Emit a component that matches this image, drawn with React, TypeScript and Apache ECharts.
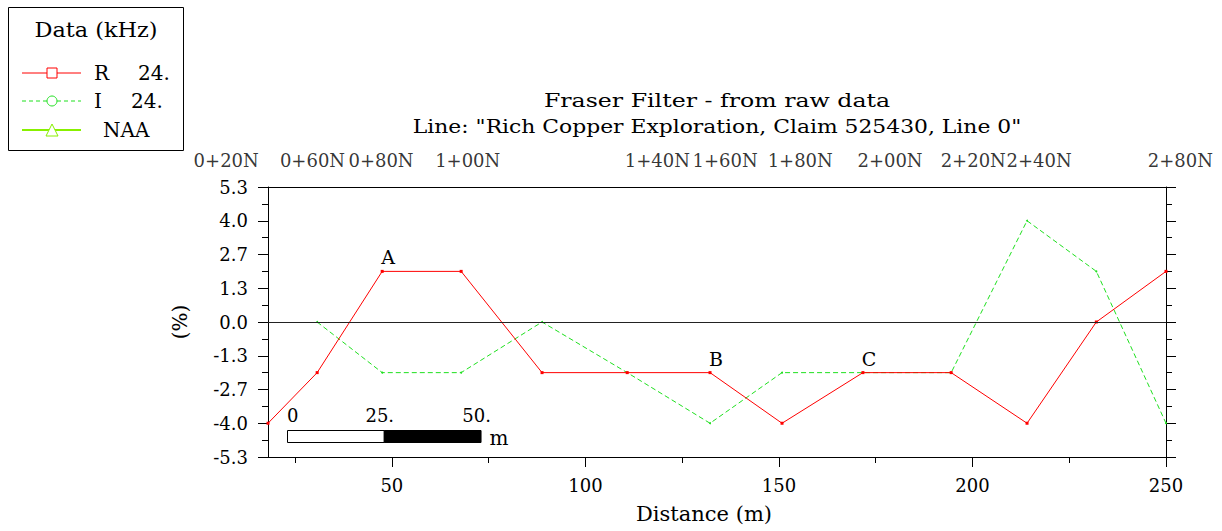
import React, { useEffect, useRef } from "react";
import * as echarts from "echarts";

// ---- data ----
const distances = [18, 30.7, 47.5, 67.9, 88.8, 110.8, 132.2, 150.8, 171.7, 194.5, 214.1, 232.0, 250];
const rValues = [-4, -2, 2, 2, -2, -2, -2, -4, -2, -2, -4, 0, 2];
const iValues: (number | null)[] = [null, 0, -2, -2, 0, -2, -4, -2, -2, -2, 4, 2, -4];
const pointTags = ["", "", "A", "", "", "", "B", "", "C", "", "", "", ""];
const stationNames = ["0+20N", "0+60N", "0+80N", "1+00N", "1+40N", "1+60N", "1+80N", "2+00N", "2+20N", "2+40N", "2+80N"];
const stationPos = [7.2, 29.5, 47.2, 69.6, 118.6, 136.1, 155.5, 178.7, 200.2, 217.2, 253.7];
const xMajorValues = [50, 100, 150, 200, 250];
const xMinorValues = [25, 75, 125, 175, 225];
const yLimit = 16 / 3;
const yStep = 4 / 3;
const scaleBarValues = [0, 25, 50];
const scaleBarLabels = ["0", "25.", "50."];
const legendRows = [
  { name: "R", value: "24." },
  { name: "I", value: "24." },
  { name: "NAA", value: "" },
];
const titleLines = ["Fraser Filter - from raw data", 'Line: "Rich Copper Exploration, Claim 525430, Line 0"'];

const FONT = '"DejaVu Serif", "Liberation Serif", serif';
const RED = "#ff0000";
const GREEN = "#1fe01f";
const LIME = "#88f000";

export default function App() {
  const ref = useRef<HTMLDivElement>(null);
  useEffect(() => {
    const chart = echarts.init(ref.current!, null, { renderer: "svg" });
    const yFmt = (v: number) => (Math.abs(v) < 1e-9 ? "0.0" : v.toFixed(1));
    const yAxisBase = {
      type: "value",
      min: -yLimit,
      max: yLimit,
      interval: yStep,
      splitLine: { show: false },
      axisLine: { show: true, onZero: false, lineStyle: { color: "#000", width: 1 } },
      axisTick: { show: true, inside: false, length: 10, lineStyle: { color: "#000" } },
      minorTick: { show: true, splitNumber: 2, length: 6, lineStyle: { color: "#000" } },
    };
    const option: any = {
      animation: false,
      backgroundColor: "#fff",
      textStyle: { fontFamily: FONT },
      grid: { left: 268, top: 187, width: 898, height: 270, containLabel: false },
      xAxis: [
        {
          type: "value",
          position: "bottom",
          min: 18,
          max: 250,
          name: "Distance (m)",
          nameLocation: "middle",
          nameGap: 46,
          nameTextStyle: { fontFamily: FONT, fontSize: 21, color: "#000", padding: [0, 26, 0, 0] },
          splitLine: { show: false },
          axisLine: { show: true, onZero: false, lineStyle: { color: "#000", width: 1 } },
          axisTick: { show: true, length: 10, customValues: xMajorValues, lineStyle: { color: "#000" } },
          axisLabel: { show: true, customValues: xMajorValues, margin: 19, fontFamily: FONT, fontSize: 18, color: "#000" },
        },
        {
          type: "value",
          position: "top",
          min: 18,
          max: 250,
          splitLine: { show: false },
          axisLine: { show: true, onZero: false, lineStyle: { color: "#000", width: 1 } },
          axisTick: { show: false },
          axisLabel: { show: false },
        },
        {
          type: "value",
          position: "bottom",
          min: 18,
          max: 250,
          splitLine: { show: false },
          axisLine: { show: false, onZero: false },
          axisTick: { show: true, length: 6, customValues: xMinorValues, lineStyle: { color: "#000" } },
          axisLabel: { show: false },
        },
      ],
      yAxis: [
        {
          ...yAxisBase,
          position: "left",
          name: "(%)",
          nameLocation: "middle",
          nameRotate: 90,
          nameGap: 78,
          nameTextStyle: { fontFamily: FONT, fontSize: 20, color: "#000" },
          axisLabel: { show: true, margin: 20, formatter: yFmt, fontFamily: FONT, fontSize: 18, color: "#000" },
        },
        {
          ...yAxisBase,
          position: "right",
          axisLabel: { show: false },
        },
      ],
      series: [
        {
          name: "R 24.",
          type: "line",
          xAxisIndex: 0,
          yAxisIndex: 0,
          data: distances.map((d, i) => ({
            value: [d, rValues[i]],
            label: pointTags[i]
              ? { show: true, formatter: pointTags[i], position: "top", distance: 3, offset: [6, 0], fontFamily: FONT, fontSize: 19, color: "#000" }
              : { show: false },
          })),
          symbol: "rect",
          symbolSize: 3,
          showSymbol: true,
          itemStyle: { color: RED },
          lineStyle: { color: RED, width: 1 },
          clip: false,
          z: 3,
          markLine: {
            silent: true,
            symbol: "none",
            label: { show: false },
            lineStyle: { color: "#222", width: 1, type: "solid" },
            data: [{ yAxis: 0 }],
          },
        },
        {
          name: "I 24.",
          type: "line",
          xAxisIndex: 0,
          yAxisIndex: 0,
          data: distances.map((d, i) => [d, iValues[i]]),
          connectNulls: false,
          symbol: "circle",
          symbolSize: 2,
          itemStyle: { color: GREEN },
          lineStyle: { color: GREEN, width: 1, type: [5, 3] },
          clip: false,
          z: 2,
        },
        {
          name: "stations",
          type: "scatter",
          xAxisIndex: 0,
          yAxisIndex: 0,
          data: stationPos.map((p) => [p, yLimit]),
          symbol: "circle",
          symbolSize: 1,
          itemStyle: { color: "rgba(0,0,0,0)" },
          clip: false,
          silent: true,
          labelLayout: { hideOverlap: false },
          label: {
            show: true,
            position: "top",
            distance: 17,
            formatter: (p: any) => stationNames[p.dataIndex],
            fontFamily: FONT,
            fontSize: 18,
            color: "#000",
          },
        },
      ],
    };
    chart.setOption(option);

    const px = (d: number) => chart.convertToPixel({ xAxisIndex: 0 }, d) as number;
    const unit = px(18 + 25) - px(18);
    const barLeft = 287;
    const barTop = 430;
    const graphics: any[] = [];

    // titles (stretched horizontally to mimic the wide plotter font)
    const titleStretch = [1.245, 1.15];
    titleLines.forEach((t, i) => {
      graphics.push({
        type: "text",
        x: 717,
        y: 100 + i * 27,
        scaleX: titleStretch[i],
        style: { text: t, fontFamily: FONT, fontSize: 19, fill: "#000", align: "center", verticalAlign: "middle" },
      });
    });

    // legend box
    graphics.push({ type: "rect", shape: { x: 8.5, y: 7.5, width: 175, height: 143 }, style: { fill: "#fff", stroke: "#000", lineWidth: 1 } });
    graphics.push({ type: "text", x: 96, y: 30, scaleX: 1.12, style: { text: "Data (kHz)", fontFamily: FONT, fontSize: 20, fill: "#000", align: "center", verticalAlign: "middle" } });
    const rowY = [73, 101, 130];
    graphics.push({ type: "line", shape: { x1: 22, y1: rowY[0], x2: 81, y2: rowY[0] }, style: { stroke: RED, lineWidth: 1 } });
    graphics.push({ type: "rect", shape: { x: 47, y: rowY[0] - 5, width: 10, height: 10 }, style: { fill: "#fff", stroke: RED, lineWidth: 1 } });
    graphics.push({ type: "line", shape: { x1: 22, y1: rowY[1], x2: 81, y2: rowY[1] }, style: { stroke: GREEN, lineWidth: 1, lineDash: [4, 3] } });
    graphics.push({ type: "circle", shape: { cx: 52, cy: rowY[1], r: 5 }, style: { fill: "#fff", stroke: GREEN, lineWidth: 1 } });
    graphics.push({ type: "line", shape: { x1: 22, y1: rowY[2], x2: 81, y2: rowY[2] }, style: { stroke: LIME, lineWidth: 2 } });
    graphics.push({ type: "polygon", shape: { points: [[46, rowY[2] + 6], [58, rowY[2] + 6], [52, rowY[2] - 6]] }, style: { fill: "#fff", stroke: LIME, lineWidth: 1 } });
    const nameX = [94, 94, 103];
    const valX = [138, 131, 0];
    legendRows.forEach((r, i) => {
      graphics.push({ type: "text", x: nameX[i], y: rowY[i], style: { text: r.name, fontFamily: FONT, fontSize: 20, fill: "#000", align: "left", verticalAlign: "middle" } });
      if (r.value) {
        graphics.push({ type: "text", x: valX[i], y: rowY[i], style: { text: r.value, fontFamily: FONT, fontSize: 20, fill: "#000", align: "left", verticalAlign: "middle" } });
      }
    });

    // scale bar
    graphics.push({ type: "rect", shape: { x: barLeft + 0.5, y: barTop + 0.5, width: unit, height: 12 }, style: { fill: "#fff", stroke: "#000", lineWidth: 1 } });
    graphics.push({ type: "rect", shape: { x: barLeft + 0.5 + unit, y: barTop + 0.5, width: unit, height: 12 }, style: { fill: "#000", stroke: "#000", lineWidth: 1 } });
    scaleBarValues.forEach((v, i) => {
      const x = barLeft + (v / 25) * unit;
      graphics.push({
        type: "text",
        x: i === 0 ? x : x - 4,
        y: 415,
        style: { text: scaleBarLabels[i], fontFamily: FONT, fontSize: 18, fill: "#000", align: i === 0 ? "left" : "center", verticalAlign: "middle" },
      });
    });
    graphics.push({ type: "text", x: barLeft + 2 * unit + 9, y: 438, style: { text: "m", fontFamily: FONT, fontSize: 20, fill: "#000", align: "left", verticalAlign: "middle" } });

    chart.setOption({ graphic: graphics });
    return () => chart.dispose();
  }, []);
  return <div ref={ref} style={{ position: "absolute", left: 0, top: 0, width: 1222, height: 531 }} />;
}
